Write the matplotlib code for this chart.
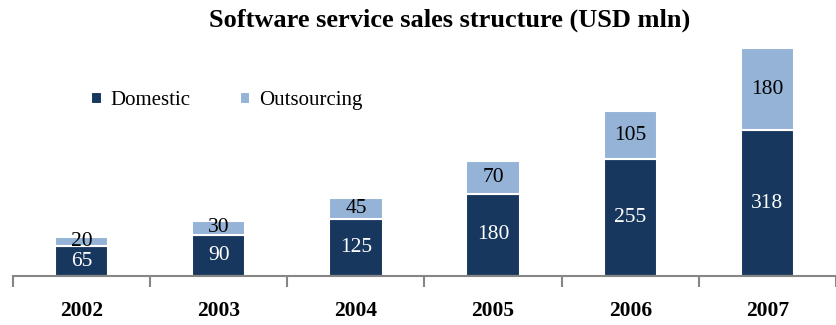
import numpy as np
import matplotlib.pyplot as plt

years = ['2002', '2003', '2004', '2005', '2006', '2007']
domestic = [65, 90, 125, 180, 255, 318]
outsourcing = [20, 30, 45, 70, 105, 180]

dark = '#17375E'
light = '#95B3D7'

plt.rcParams['font.family'] = ['Liberation Serif', 'DejaVu Serif']

fig = plt.figure(figsize=(8.36, 3.25), dpi=100)
ax = fig.add_axes([13 / 836, 49 / 325, 1 - 13 / 836, 236 / 325])

x = np.arange(len(years))
w = 0.39
b1 = ax.bar(x, domestic, w, color=dark, edgecolor='white', linewidth=1.5, label='Domestic')
b2 = ax.bar(x, outsourcing, w, bottom=domestic, color=light, edgecolor='white',
            linewidth=1.5, label='Outsourcing')

for xi, d, o in zip(x, domestic, outsourcing):
    ax.text(xi, d / 2, str(d), ha='center', va='center', color='white', fontsize=15.5)
    ax.text(xi, d + o / 2, str(o), ha='center', va='center', color='black', fontsize=15.5)

ax.set_xlim(-0.5, len(years) - 0.5)
ax.set_ylim(0, 515)

for s in ['top', 'right', 'left']:
    ax.spines[s].set_visible(False)
ax.spines['bottom'].set_color('#868686')
ax.spines['bottom'].set_linewidth(1.5)
ax.set_yticks([])

# boundary ticks between categories, labels centred under the bars
ax.set_xticks(np.arange(-0.5, len(years), 1.0))
ax.set_xticklabels([])
ax.tick_params(axis='x', length=8, width=1.5, color='#868686', direction='out')
ax.set_xticks(x, minor=True)
ax.set_xticklabels(years, minor=True, fontweight='bold', fontsize=15.5)
ax.tick_params(axis='x', which='minor', length=0, pad=18)

fig.text(0.538, 0.938, 'Software service sales structure (USD mln)', ha='center',
         va='center', fontsize=19, fontweight='bold')

ax.legend(handles=[b1, b2], loc='upper left', bbox_to_anchor=(0.085, 0.818),
          ncol=2, frameon=False, fontsize=15, handlelength=0.5, handleheight=0.5,
          handletextpad=0.4, columnspacing=2.4, borderaxespad=0)

fig.savefig('out.png', dpi=100)
